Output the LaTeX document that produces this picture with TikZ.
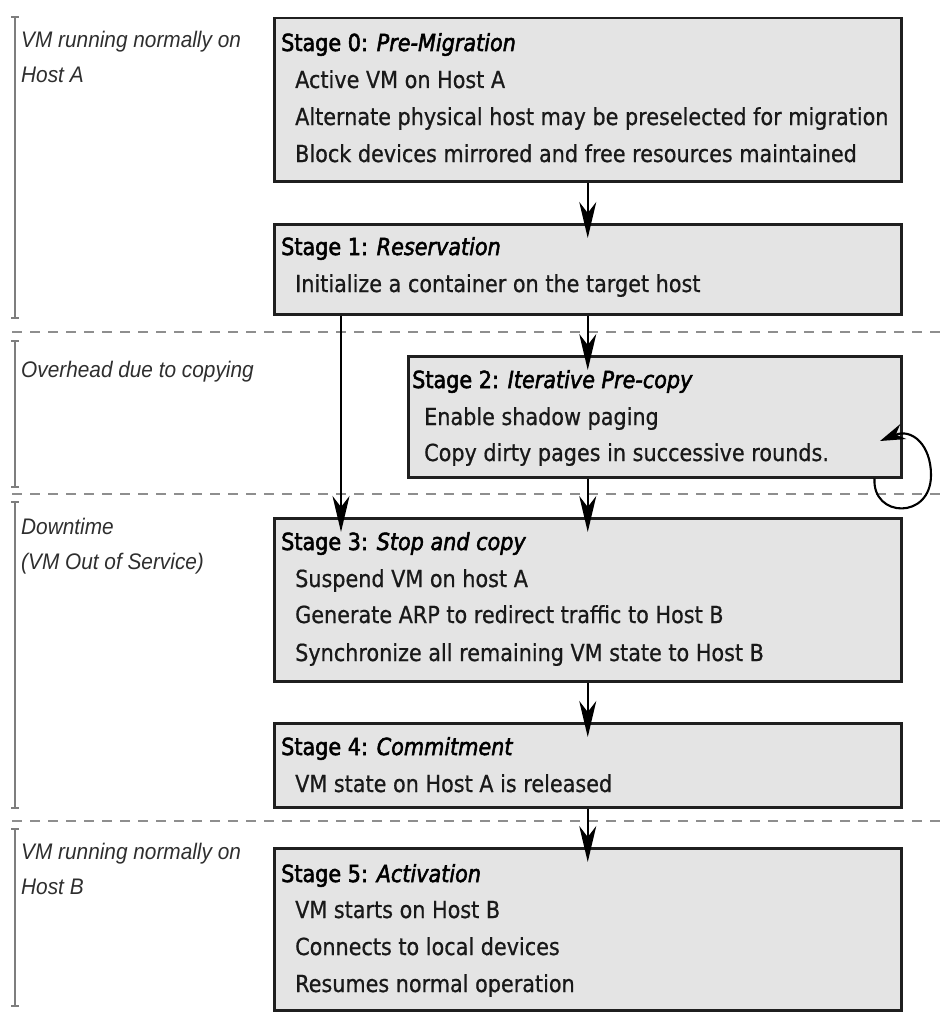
\documentclass[tikz,border=0pt]{standalone}
\usepackage{fontspec}
\usetikzlibrary{arrows.meta}
\newfontfamily\boxfont[FakeStretch=0.883,FakeBold=0.7]{DejaVu Sans}
\newfontfamily\titlefont[FakeStretch=0.883,FakeBold=2.2]{DejaVu Sans}
\newfontfamily\labfont[FakeStretch=0.925]{Liberation Sans}
\definecolor{boxgray}{HTML}{E4E4E4}
\definecolor{sepgray}{HTML}{8E8E8E}
\definecolor{brkgray}{HTML}{7E7E7E}
\begin{document}
\begin{tikzpicture}[x=1pt,y=-1pt,
  stagebox/.style={draw=black!88, line width=2.5pt, fill=boxgray, inner sep=0pt, anchor=north west},
  ttl/.style={anchor=base west, inner sep=0pt, font=\titlefont\fontsize{23.5}{28}\selectfont, text=black},
  bdy/.style={anchor=base west, inner sep=0pt, font=\boxfont\fontsize{23.5}{28}\selectfont, text=black!90},
  lab/.style={anchor=base west, inner sep=0pt, font=\labfont\itshape\fontsize{22.5}{27}\selectfont, text=black!82},
  sep/.style={draw=sepgray, line width=2.4pt, dash pattern=on 10pt off 8pt},
  brk/.style={draw=brkgray, line width=2pt},
  arr/.style={draw=black, line width=2.1pt, -{Stealth[length=36pt,width=17pt,inset=11pt]}, shorten >=-15pt},
  looparr/.style={draw=black, line width=2.1pt, -{Stealth[length=25pt,width=16pt,inset=8pt]}}
]
\useasboundingbox (0,0) rectangle (940,1030);

% separators
\draw[sep] (12,332) -- (940,332);
\draw[sep] (12,494) -- (940,494);
\draw[sep] (12,821) -- (940,821);

% brackets
\draw[brk] (11,17) -- (19,17) (15,17) -- (15,318) (11,318) -- (19,318);
\draw[brk] (11,341) -- (19,341) (15,341) -- (15,487) (11,487) -- (19,487);
\draw[brk] (11,502) -- (19,502) (15,502) -- (15,808) (11,808) -- (19,808);
\draw[brk] (11,829) -- (19,829) (15,829) -- (15,1006) (11,1006) -- (19,1006);

% phase labels
\node[lab] (l0a) at (21,48) {VM running normally on};
\node[lab] (l0b) at (21,83) {Host A};
\node[lab] (l1a) at (21,377) {Overhead due to copying};
\node[lab] (l2a) at (21,534) {Downtime};
\node[lab] (l2b) at (21,569) {(VM Out of Service)};
\node[lab] (l3a) at (21,859) {VM running normally on};
\node[lab] (l3b) at (21,894) {Host B};

% boxes
\node[stagebox, minimum width=627pt, minimum height=163pt] (b0) at (273,17) {};
\node[stagebox, minimum width=627pt, minimum height=90pt]  (b1) at (273,223) {};
\node[stagebox, minimum width=493pt, minimum height=121pt] (b2) at (407,355) {};
\node[stagebox, minimum width=627pt, minimum height=163pt] (b3) at (273,517) {};
\node[stagebox, minimum width=627pt, minimum height=84pt]  (b4) at (273,722) {};
\node[stagebox, minimum width=627pt, minimum height=162pt] (b5) at (273,847) {};

% box texts
\node[ttl] (t0) at (281,51) {Stage 0: \textit{Pre-Migration}};
\node[bdy] (t0a) at (295,88) {Active VM on Host A};
\node[bdy] (t0b) at (295,125) {Alternate physical host may be preselected for migration};
\node[bdy] (t0c) at (295,162) {Block devices mirrored and free resources maintained};

\node[ttl] (t1) at (281,255) {Stage 1: \textit{Reservation}};
\node[bdy] (t1a) at (295,292) {Initialize a container on the target host};

\node[ttl] (t2) at (412,388) {Stage 2: \textit{Iterative Pre-copy}};
\node[bdy] (t2a) at (424,425) {Enable shadow paging};
\node[bdy] (t2b) at (424,461) {Copy dirty pages in successive rounds.};

\node[ttl] (t3) at (281,550) {Stage 3: \textit{Stop and copy}};
\node[bdy] (t3a) at (295,587) {Suspend VM on host A};
\node[bdy] (t3b) at (295,623) {Generate ARP to redirect traffic to Host B};
\node[bdy] (t3c) at (295,661) {Synchronize all remaining VM state to Host B};

\node[ttl] (t4) at (281,755) {Stage 4: \textit{Commitment}};
\node[bdy] (t4a) at (295,792) {VM state on Host A is released};

\node[ttl] (t5) at (281,882) {Stage 5: \textit{Activation}};
\node[bdy] (t5a) at (295,918) {VM starts on Host B};
\node[bdy] (t5b) at (295,955) {Connects to local devices};
\node[bdy] (t5c) at (295,992) {Resumes normal operation};

% connectors
\draw[arr] (b0.south) -- (b1.north);
\draw[arr] (b1.south) -- (b1.south |- b2.north);
\draw[arr] ([xshift=68pt]b1.south west) -- ([xshift=68pt]b3.north west);
\draw[arr] (b1.south |- b2.south) -- (b3.north);
\draw[arr] (b3.south) -- (b4.north);
\draw[arr] (b4.south) -- (b5.north);
\coordinate (loopend) at (880,441);
\draw[looparr] ([xshift=-28pt]b2.south east) .. controls (872,518) and (931,520) .. (931,475)
  .. controls (931,445) and (912,428) .. (loopend);
\end{tikzpicture}
\end{document}
